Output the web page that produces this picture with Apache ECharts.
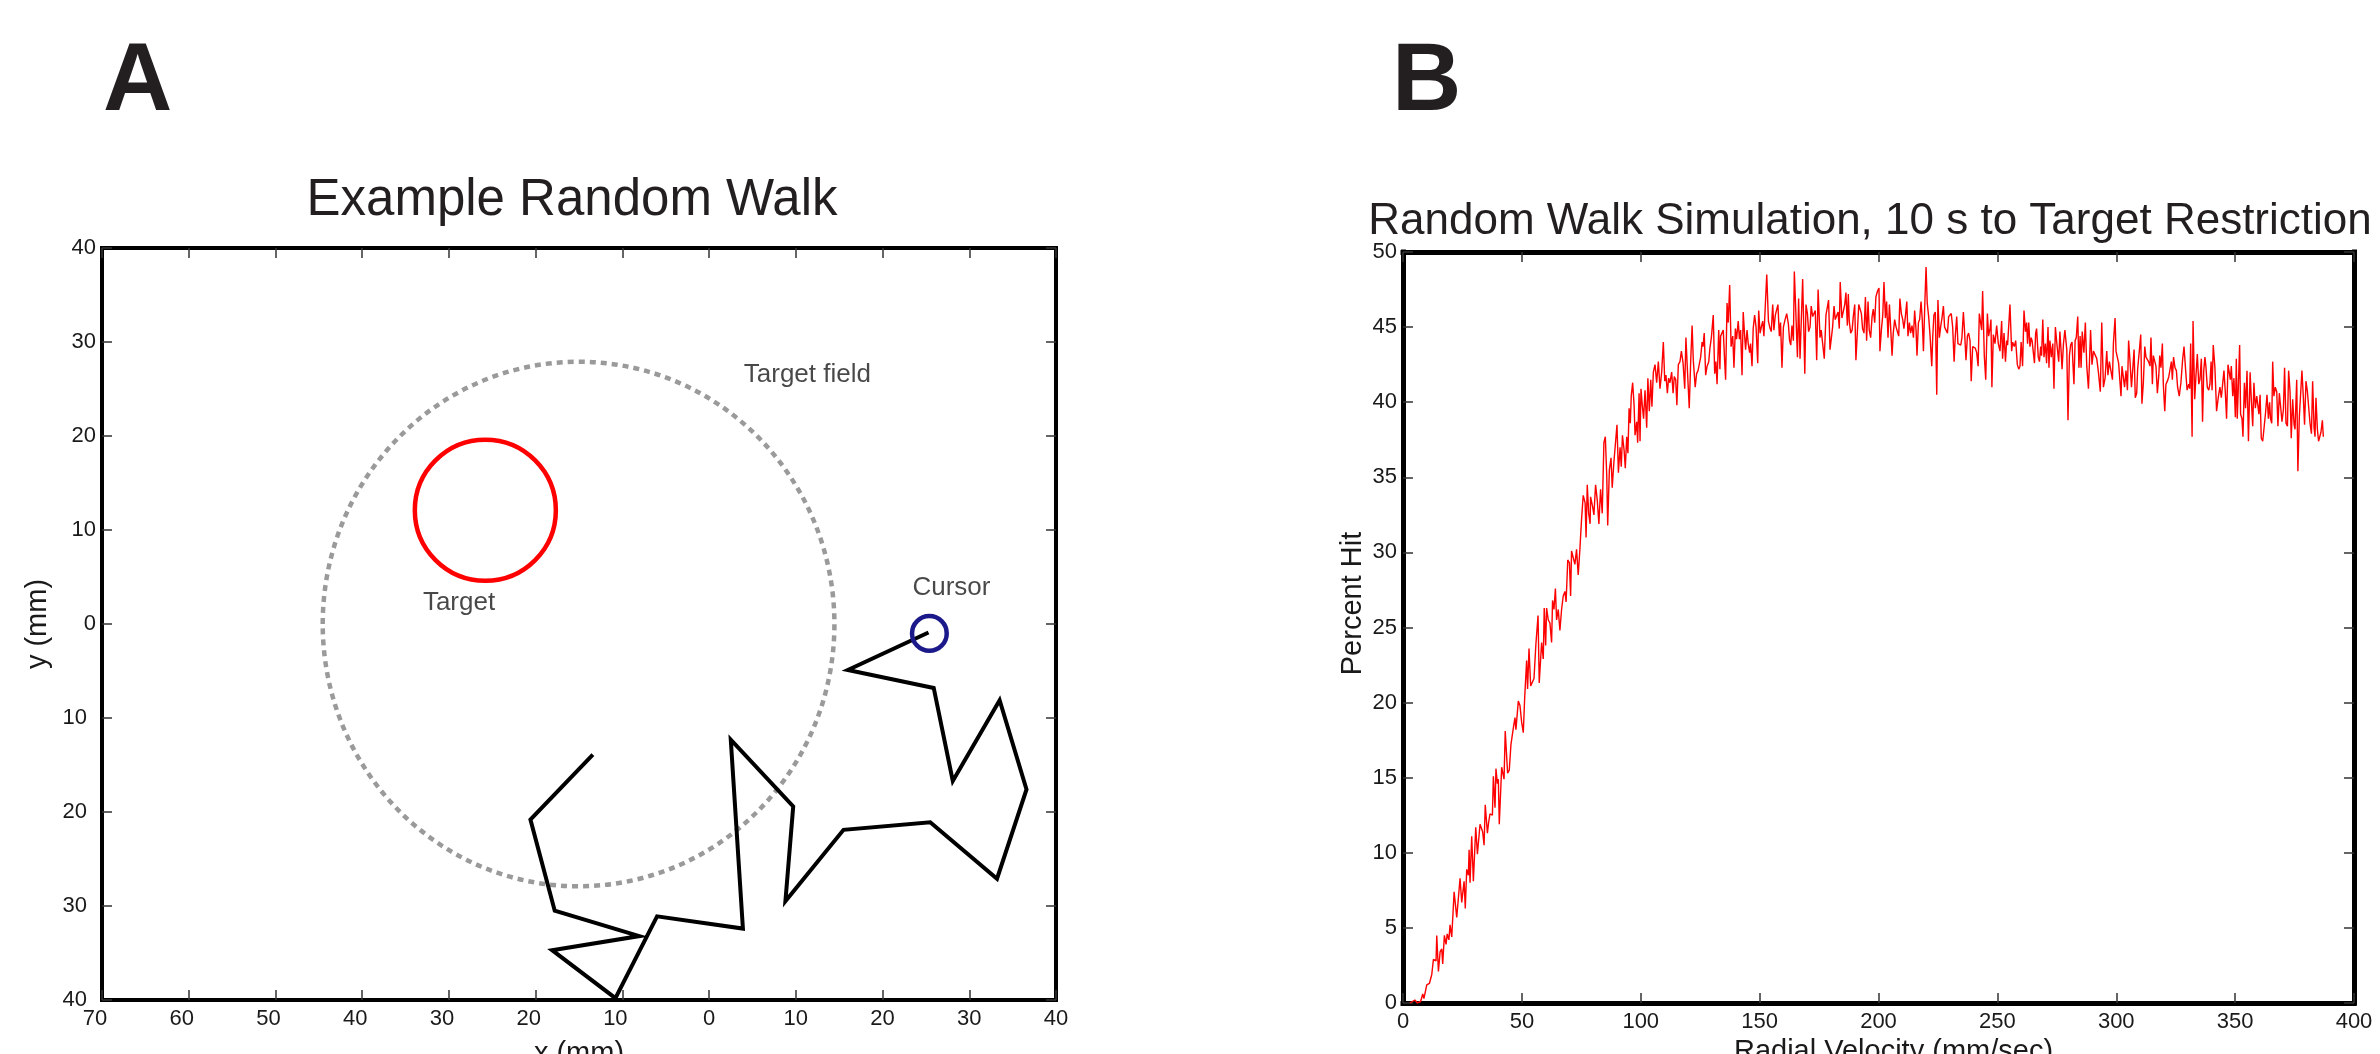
<!DOCTYPE html>
<html>
<head>
<meta charset="utf-8">
<script src="https://cdn.jsdelivr.net/npm/echarts@6.0.0/dist/echarts.min.js"></script>
<style>
html,body{margin:0;padding:0;background:#fff;}
#chart{width:2380px;height:1054px;}
</style>
</head>
<body>
<div id="chart"></div>
<script>
// ---------- Panel A data ----------
const xTicksA = ['70','60','50','40','30','20','10','0','10','20','30','40'];
const yTicksA = ['40','30','20','10','0','10','20','30','40'];
const walkX = [-13.4,-20.6,-17.8,-8.05,-18.1,-10.8,-6.0,3.9,2.5,9.7,8.8,15.5,25.5,33.2,36.6,33.5,28.1,25.9,16.0,25.3];
const walkY = [-13.9,-20.8,-30.5,-33.2,-34.7,-39.8,-31.1,-32.4,-12.3,-19.4,-29.5,-21.9,-21.1,-27.1,-17.6,-8.1,-16.7,-6.8,-4.9,-0.9];
// ellipse / circles: [centerX, centerY, radiusX, radiusY]
const targetField = [-15.05, 0, 29.5, 27.9];
const targetCircle = [-25.8, 12.1, 8.13];
const cursorCircle = [25.4, -1.0, 2.0];
const annotText = ['Target field', 'Target', 'Cursor'];
const annotX = [4.0, -33.0, 23.45];
const annotY = [26.5, 2.2, 3.9];

// ---------- Panel B data ----------
const xTicksB = ['0','50','100','150','200','250','300','350','400'];
const yTicksB = ['0','5','10','15','20','25','30','35','40','45','50'];
const velocity = [
2.9,5.0,6.0,7.4,8.3,8.8,10.0,11.1,12.1,12.8,
13.9,14.2,14.9,15.6,16.3,16.7,17.4,18.1,18.6,19.3,
19.8,20.5,21.5,22.6,24.0,24.7,25.7,26.2,26.8,27.5,
27.8,28.2,28.9,29.6,30.6,31.3,32.4,33.5,34.1,34.6,
35.5,36.0,36.6,37.6,38.0,38.7,39.1,39.7,40.1,40.5,
41.5,42.2,42.5,43.0,43.6,44.0,44.7,45.4,46.4,47.1,
47.5,48.5,49.2,49.9,50.6,51.2,52.0,52.4,53.0,53.7,
54.5,55.1,55.9,56.8,57.3,58.3,59.0,59.4,60.0,60.4,
61.1,61.8,62.5,62.9,63.5,64.1,64.6,65.3,66.0,66.7,
67.4,68.1,68.6,69.3,70.0,70.5,70.9,71.6,72.3,73.0,
73.7,74.4,75.1,75.8,76.6,77.0,77.5,78.1,78.7,78.9,
79.8,80.3,81.0,81.7,82.4,
83.1,83.8,84.5,85.1,85.7,86.1,86.8,87.5,88.0,88.7,
89.4,90.0,90.6,91.3,91.8,92.3,93.0,93.5,94.1,94.6,
95.1,95.6,96.0,96.6,97.2,97.6,98.3,98.7,99.3,99.7,
100.1,100.7,101.2,101.8,102.5,103.0,103.6,104.2,104.7,105.3,
106.0,106.7,107.4,108.1,108.8,109.5,110.1,110.6,111.2,111.7,
112.3,113.0,113.6,114.1,114.7,115.2,115.8,116.5,117.1,117.8,
118.5,119.0,119.7,120.4,121.0,121.6,122.1,122.9,123.5,124.1,
124.6,125.2,125.8,126.2,126.7,127.3,127.9,128.6,129.1,129.7,
130.5,131.1,131.6,132.1,132.8,133.3,133.6,134.2,134.7,135.3,
135.7,136.3,136.8,137.4,138.0,138.7,139.2,139.8,140.3,141.0,
141.5,142.0,142.6,143.1,143.7,144.1,144.7,145.2,145.8,146.2,
146.8,147.3,147.9,148.5,149.2,149.6,150.2,150.7,151.3,151.8,
152.4,153.0,153.7,154.4,154.9,155.5,156.0,156.6,157.2,157.7,
158.3,158.8,159.4,160.0,160.7,161.4,162.1,162.6,
163.1,163.6,164.2,164.6,165.2,165.9,166.4,167.0,167.5,168.1,
169.0,169.5,170.1,170.6,171.2,171.7,172.3,172.9,173.4,174.0,
174.6,175.4,175.9,176.5,177.2,177.9,178.5,179.0,179.6,180.2,
180.7,181.3,181.8,182.4,183.0,183.5,183.9,184.6,185.2,185.8,
186.3,186.9,187.3,187.7,188.3,188.9,189.4,190.0,190.5,191.1,
191.7,192.2,192.8,193.3,193.9,194.5,195.0,195.6,196.1,196.7,
197.3,197.8,198.4,198.9,199.6,200.2,200.6,201.2,201.8,202.3,
202.9,203.4,204.0,204.6,205.1,205.7,206.2,206.8,207.4,207.9,
208.5,209.0,209.6,210.2,210.7,211.3,211.9,212.4,213.0,213.5,
214.1,214.7,215.2,215.8,216.2,216.8,217.3,217.9,218.4,218.9,
219.4,220.0,220.5,221.1,221.7,222.4,222.8,223.3,223.9,224.5,
225.0,225.6,226.2,226.7,227.3,227.8,228.4,229.0,229.5,230.1,
230.6,231.2,231.8,232.3,232.9,233.4,234.0,234.6,235.1,235.7,
236.2,236.8,237.4,237.9,238.5,239.0,239.6,240.2,240.7,241.3,
241.9,242.4,
243.0,243.4,243.8,244.5,245.1,245.8,246.3,246.9,247.3,247.7,
248.3,249.0,249.7,250.4,251.1,251.8,252.2,252.8,253.4,253.9,
254.3,255.3,256.0,256.4,257.1,257.7,258.4,259.0,259.5,260.0,
260.6,261.2,261.8,262.3,262.7,263.2,263.7,264.2,264.6,265.1,
265.6,266.1,266.5,267.2,267.7,268.2,268.6,269.1,269.6,270.2,
270.7,271.3,271.7,272.1,272.7,273.3,273.8,274.4,274.9,275.4,
275.8,276.3,276.8,277.2,277.8,278.4,279.2,279.7,280.3,280.8,
281.4,281.8,282.2,282.7,283.2,283.8,284.3,284.8,285.2,285.7,
286.4,287.0,287.6,288.3,288.7,289.2,289.8,290.4,291.1,291.8,
292.5,293.3,293.9,294.6,295.3,296.0,296.5,297.1,297.7,298.4,
298.8,299.5,299.9,300.5,301.0,301.6,302.0,302.4,303.0,303.5,
304.1,304.7,305.2,305.8,306.4,306.9,307.5,308.0,308.6,309.0,
309.7,310.3,310.8,311.4,312.0,312.5,313.1,313.6,314.2,314.6,
315.2,315.6,316.2,316.7,317.3,317.9,318.3,318.8,319.4,319.8,
320.4,320.9,321.5,322.1,
322.6,323.2,323.6,324.1,324.7,325.3,325.8,326.5,327.2,327.9,
328.5,329.2,329.8,330.5,330.9,331.3,331.9,332.3,333.0,333.5,
334.1,334.7,335.2,335.8,336.3,336.8,337.3,337.7,338.3,338.9,
339.4,339.9,340.3,340.8,341.5,342.2,342.9,343.6,344.2,344.8,
345.3,345.9,346.4,347.0,347.6,348.0,348.4,349.0,349.5,350.1,
350.5,350.9,351.3,351.9,352.3,352.9,353.3,353.9,354.4,355.0,
355.6,356.3,356.8,357.4,357.9,358.5,359.1,359.6,360.0,360.5,
361.0,361.6,362.3,362.8,363.4,364.0,364.5,364.9,365.4,365.8,
366.3,366.9,367.5,368.0,368.6,369.2,369.7,370.3,370.8,371.4,
372.0,372.5,373.1,373.6,374.2,374.8,375.2,375.9,376.4,377.0,
377.6,378.1,378.7,379.2,379.8,380.4,380.9,381.5,382.1,382.6,
383.2,383.6,384.0,384.6,385.1,385.6,386.1,386.7,387.1
];
const percentHit = [
0,0.2,0,0.1,0.6,0.3,1.2,1.3,1.9,2.9,
2.8,4.5,2.1,3.4,3.6,2.6,4.5,3.9,4.6,4.2,
5.2,4.4,7.4,5.7,8.3,6.7,8.1,6.3,8.9,8.5,
10.2,8.0,11.1,8.1,11.7,9.9,11.9,11.4,10.5,13.2,
11.3,12.0,12.6,12.5,15.1,13.0,15.6,14.6,14.9,11.9,
15.7,15.8,14.9,18.1,18.2,15.3,15.5,17.2,18.3,19.0,
18.2,20.1,19.8,18.7,18.0,20.4,22.8,20.9,23.6,21.1,
21.0,21.6,23.9,25.8,21.3,24.0,22.9,26.3,23.8,26.3,
25.5,25.3,24.0,26.8,26.2,27.6,25.5,26.2,24.8,26.2,
27.1,27.4,26.7,29.5,29.3,27.1,30.1,30.2,29.2,30.2,
28.5,30.2,32.2,33.8,33.3,31.0,34.5,32.6,31.9,33.7,
33.0,32.5,34.5,33.5,31.9,
34.2,32.6,37.3,37.7,35.1,31.8,35.5,36.3,34.3,36.0,
36.0,38.5,35.3,37.0,35.7,37.8,36.8,35.6,37.7,36.6,
39.6,38.6,40.4,41.3,39.8,37.8,38.7,37.3,40.6,37.4,
40.9,39.7,38.9,40.8,38.3,41.6,39.4,41.5,39.7,42.0,
42.5,41.3,42.7,40.9,42.0,44.0,41.4,41.8,40.6,41.6,
41.3,42.0,40.6,41.7,41.5,39.8,42.5,42.7,43.4,42.6,
40.9,44.3,41.9,39.6,42.7,45.1,42.8,41.0,41.9,42.1,
42.0,43.0,44.0,43.7,44.6,41.8,42.4,42.7,43.6,44.3,
45.8,41.9,42.7,41.2,44.8,42.2,44.4,44.5,44.8,42.7,
41.5,46.6,45.3,47.8,43.7,44.4,42.3,44.9,44.2,45.4,
44.2,44.8,41.8,46.0,44.4,43.5,44.8,43.9,43.3,43.9,
42.4,44.9,45.8,45.0,42.6,46.1,44.6,45.0,45.4,44.4,
44.3,48.5,45.4,44.9,44.7,46.5,44.8,45.8,45.9,46.5,
44.4,45.3,42.3,45.0,45.5,45.9,45.2,44.1,
43.8,45.1,44.1,48.7,46.1,43.0,46.9,42.9,42.8,48.2,
41.9,46.5,45.9,44.7,45.0,46.4,45.7,45.8,46.1,42.8,
47.5,44.3,44.8,44.7,42.9,45.8,45.8,46.8,43.5,43.4,
45.0,46.4,45.5,45.6,46.0,44.9,48.0,45.6,45.5,46.5,
47.3,45.1,47.2,45.4,44.6,44.8,45.7,46.5,42.8,42.9,
46.5,46.5,45.9,44.9,44.6,47.0,44.1,46.7,44.8,44.3,
45.7,46.2,45.3,47.0,47.4,47.6,43.4,44.8,45.8,48.0,
45.6,46.7,44.3,46.5,45.0,43.1,44.6,45.5,45.0,45.1,
44.4,46.9,45.9,45.5,44.9,45.7,46.7,44.4,45.3,44.6,
45.1,44.3,46.1,44.8,43.1,45.3,45.5,46.7,45.5,43.4,
46.1,49.0,46.6,45.7,44.4,42.4,44.3,45.8,46.0,40.5,
46.8,44.3,45.1,45.6,46.4,45.0,45.0,44.6,45.7,45.7,
45.9,45.0,42.7,44.4,45.7,43.9,44.0,43.8,44.3,46.0,
44.7,42.8,44.4,44.6,44.1,41.4,43.7,43.8,43.6,43.3,
42.4,45.9,
46.0,44.8,47.4,43.1,41.5,45.9,44.4,44.9,45.5,41.0,
44.5,43.9,45.1,43.9,43.4,45.4,42.9,44.6,42.7,44.1,
43.8,46.5,43.4,44.0,43.7,44.1,42.5,42.2,42.4,44.0,
42.4,46.1,44.7,45.3,43.9,45.3,43.7,44.3,44.1,44.1,
42.6,44.6,44.9,43.0,42.7,43.7,43.1,45.5,43.0,43.9,
42.6,45.0,42.3,44.1,43.0,43.9,40.9,45.0,44.1,43.3,
42.7,44.7,43.4,42.2,43.9,44.8,43.5,38.8,43.1,43.8,
44.0,42.5,41.2,44.1,44.3,45.7,42.3,44.4,42.3,44.7,
43.3,45.3,42.4,40.9,42.5,44.8,42.5,43.4,43.4,42.9,
42.0,40.7,45.3,41.0,41.6,43.4,41.8,42.7,42.7,41.5,
43.9,45.6,43.4,43.5,42.6,42.5,40.4,42.4,42.5,41.0,
42.1,40.8,44.1,42.7,41.0,42.1,43.5,40.3,40.6,42.2,
43.4,44.5,39.9,41.3,43.7,43.0,43.1,42.7,42.4,44.3,
41.2,43.1,43.0,42.4,40.6,41.8,43.1,42.3,43.9,41.2,
39.4,41.2,41.4,41.7,
41.6,42.7,41.5,43.0,42.3,42.1,41.0,40.4,41.3,42.8,
43.7,42.1,40.8,41.2,40.9,43.9,37.7,45.4,40.2,41.7,
43.2,41.2,41.5,42.9,38.7,42.1,43.0,42.4,41.0,40.8,
41.2,42.7,40.8,43.8,42.3,39.4,40.3,41.0,40.3,40.4,
42.1,40.6,38.9,42.5,42.5,41.5,42.4,40.4,41.6,39.0,
42.9,38.9,40.8,43.8,39.2,38.9,37.7,41.3,39.6,42.1,
37.4,42.0,40.2,38.4,41.3,39.6,40.4,40.3,39.2,40.5,
37.6,37.4,38.5,39.3,40.5,38.9,40.0,38.9,38.6,42.7,
40.4,41.0,40.7,38.4,40.6,39.6,38.7,39.5,42.3,38.6,
38.4,42.1,40.7,37.6,40.2,38.5,38.2,41.5,35.4,39.0,
40.7,42.1,40.3,38.5,41.4,40.7,40.6,38.6,37.9,41.4,
38.3,37.7,40.3,38.2,37.4,37.3,38.0,38.8,37.7
];

// ---------- Chart ----------
const FONT = "'Liberation Sans', Arial, Helvetica, sans-serif";
const TXT = '#1a1a1a';
const TICK_FS = 22;

const xA = {min: -70, max: 40, step: 10};
const yA = {min: -40, max: 40, step: 10};
const xB = {min: 0, max: 400, step: 50};
const yB = {min: 0, max: 50, step: 5};

// negative-side labels of panel A sit slightly offset (as in the original figure)
function axis(gridIndex, rng, position, labels, lineWidth, extra, negPad) {
  const showLabel = !!labels;
  const lbl = showLabel ? {
    show: true, margin: (position === 'left' ? 6 : 8), fontSize: TICK_FS, fontFamily: FONT, color: TXT,
    formatter: function (v) {
      const t = labels[Math.round((v - rng.min) / rng.step)];
      return (negPad && v < 0) ? '{neg|' + t + '}' : t;
    },
    rich: negPad ? {neg: {fontSize: TICK_FS, fontFamily: FONT, color: TXT, padding: [0, negPad, 0, 0]}} : undefined
  } : {show: false};
  return Object.assign({
    gridIndex: gridIndex,
    type: 'value',
    min: rng.min, max: rng.max, interval: rng.step,
    position: position,
    axisLine: {show: true, onZero: false, lineStyle: {color: '#000', width: lineWidth, cap: 'square'}},
    axisTick: {show: true, inside: true, length: 10, lineStyle: {color: '#333', width: 1.5}},
    axisLabel: lbl,
    splitLine: {show: false},
    minorTick: {show: false}
  }, extra || {});
}

const nameStyle = {fontSize: 29, fontFamily: FONT, color: TXT};

const option = {
  animation: false,
  backgroundColor: '#fff',
  title: [
    {text: 'Example Random Walk', left: 572, top: 175, textAlign: 'center', padding: 0,
     textStyle: {fontSize: 51, fontWeight: 'normal', fontFamily: FONT, color: '#231f20'}},
    {text: 'Random Walk Simulation, 10 s to Target Restriction', left: 1870, top: 200, textAlign: 'center', padding: 0,
     textStyle: {fontSize: 44, fontWeight: 'normal', fontFamily: FONT, color: '#231f20'}}
  ],
  graphic: [
    {type: 'text', left: 103, top: 36, style: {text: 'A', fontSize: 96, fontWeight: 'bold', fontFamily: FONT, fill: '#231f20'}},
    {type: 'text', left: 1392, top: 36, style: {text: 'B', fontSize: 96, fontWeight: 'bold', fontFamily: FONT, fill: '#231f20'}}
  ],
  grid: [
    {left: 102, top: 248, width: 954, height: 752, containLabel: false, outerBoundsMode: 'none'},
    {left: 1403, top: 252, width: 951, height: 751, containLabel: false, outerBoundsMode: 'none'}
  ],
  xAxis: [
    axis(0, xA, 'bottom', xTicksA, 4, {name: 'x (mm)', nameLocation: 'middle', nameGap: 39, nameTextStyle: nameStyle}, 14),
    axis(0, xA, 'top', null, 4),
    axis(1, xB, 'bottom', xTicksB, 5, {name: 'Radial Velocity (mm/sec)', nameLocation: 'middle', nameGap: 33,
      nameTextStyle: Object.assign({padding: [0, 0, 0, 30]}, nameStyle)}),
    axis(1, xB, 'top', null, 5)
  ],
  yAxis: [
    axis(0, yA, 'left', yTicksA, 4, {name: 'y (mm)', nameLocation: 'middle', nameGap: 50, nameTextStyle: nameStyle}, 9),
    axis(0, yA, 'right', null, 4),
    axis(1, yB, 'left', yTicksB, 5, {name: 'Percent Hit', nameLocation: 'middle', nameGap: 36,
      nameTextStyle: Object.assign({padding: [0, 0, 0, 48]}, nameStyle)}),
    axis(1, yB, 'right', null, 5)
  ],
  series: [
    {
      type: 'custom', xAxisIndex: 0, yAxisIndex: 0, silent: true, z: 2,
      data: [targetField],
      renderItem: function (params, api) {
        const c = api.coord([api.value(0), api.value(1)]);
        const s = api.size([api.value(2), api.value(3)]);
        return {type: 'ellipse', shape: {cx: c[0], cy: c[1], rx: s[0], ry: s[1]},
          style: {fill: 'transparent', stroke: '#9a9a9a', lineWidth: 4.5, lineDash: [6, 5]}};
      }
    },
    {
      type: 'custom', xAxisIndex: 0, yAxisIndex: 0, silent: true, z: 3,
      data: [targetCircle],
      renderItem: function (params, api) {
        const c = api.coord([api.value(0), api.value(1)]);
        const r = api.size([api.value(2), 0])[0];
        return {type: 'circle', shape: {cx: c[0], cy: c[1], r: r},
          style: {fill: 'transparent', stroke: '#ff0000', lineWidth: 4.5}};
      }
    },
    {
      type: 'line', xAxisIndex: 0, yAxisIndex: 0, silent: true, z: 4,
      data: walkX.map(function (x, i) { return [x, walkY[i]]; }),
      symbol: 'none', showSymbol: false, smooth: false, clip: false,
      lineStyle: {color: '#000', width: 4, join: 'miter', cap: 'butt'}
    },
    {
      type: 'custom', xAxisIndex: 0, yAxisIndex: 0, silent: true, z: 5,
      data: [cursorCircle],
      renderItem: function (params, api) {
        const c = api.coord([api.value(0), api.value(1)]);
        const r = api.size([api.value(2), 0])[0];
        return {type: 'circle', shape: {cx: c[0], cy: c[1], r: r},
          style: {fill: 'transparent', stroke: '#1c1a8a', lineWidth: 4.5}};
      }
    },
    {
      type: 'scatter', xAxisIndex: 0, yAxisIndex: 0, silent: true, z: 6,
      data: annotX.map(function (x, i) { return [x, annotY[i], annotText[i]]; }),
      symbol: 'circle', symbolSize: 0, itemStyle: {color: 'transparent'},
      label: {show: true, position: 'right', distance: 0, fontSize: 26, fontFamily: FONT, color: TXT,
        formatter: function (p) { return p.value[2]; }}
    },
    {
      type: 'line', xAxisIndex: 2, yAxisIndex: 2, silent: true, z: 3,
      data: velocity.map(function (v, i) { return [v, percentHit[i]]; }),
      symbol: 'none', showSymbol: false, smooth: false,
      lineStyle: {color: '#ff0000', width: 1.4}
    }
  ]
};

const chart = echarts.init(document.getElementById('chart'), null, {renderer: 'canvas', width: 2380, height: 1054});
chart.setOption(option);
</script>
</body>
</html>
